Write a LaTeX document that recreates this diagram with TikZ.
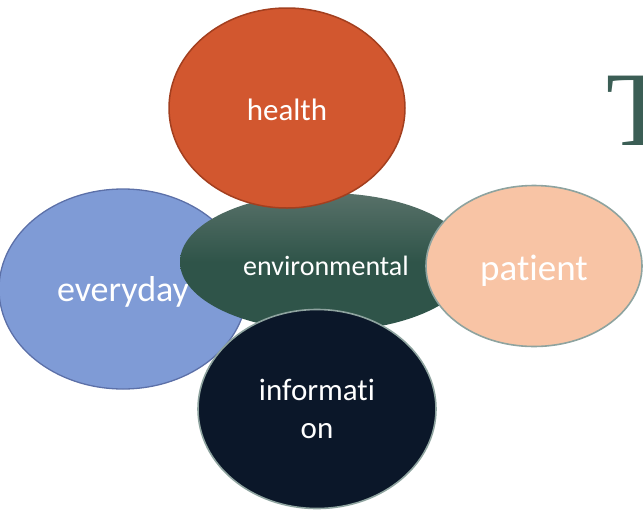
\documentclass[tikz,border=0pt]{standalone}
\usepackage{fontspec}
\setmainfont{Carlito}[Ligatures={NoCommon,NoRare}]
\newfontfamily\serifT{Liberation Serif}
\usetikzlibrary{shapes.geometric}
\definecolor{everyfill}{HTML}{7F9BD6}
\definecolor{everydraw}{HTML}{5C70A8}
\definecolor{healthfill}{HTML}{D2572F}
\definecolor{healthdraw}{HTML}{A33F1F}
\definecolor{envtop}{HTML}{587169}
\definecolor{envbot}{HTML}{2F5449}
\definecolor{patientfill}{HTML}{F8C4A5}
\definecolor{greydraw}{HTML}{8EA39F}
\definecolor{infofill}{HTML}{0B1729}
\definecolor{tcolor}{HTML}{3B5E55}
\begin{document}
\begin{tikzpicture}[x=1pt,y=-1pt,
  blob/.style={ellipse, inner sep=0pt, outer sep=0pt, text=white, align=center}]
\useasboundingbox (0,0) rectangle (643,512);
\node[blob, fill=everyfill, draw=everydraw, line width=1.3pt,
  minimum width=248pt, minimum height=200pt,
  font=\fontsize{36}{42}\selectfont, text height=25pt, text depth=0pt]
  (everyday) at (123,289) {everyday};
\node[blob, top color=envtop, bottom color=envbot, middle color=envbot,
  minimum width=292pt, minimum height=138pt,
  font=\fontsize{28}{34}\selectfont, text height=26pt, text depth=0pt]
  (environmental) at (326,262) {environmental};
\node[blob, fill=healthfill, draw=healthdraw, line width=1.5pt,
  minimum width=236pt, minimum height=200pt,
  font=\fontsize{31}{38}\selectfont, text height=24pt, text depth=0pt]
  (health) at (287,108) {health};
\node[blob, fill=patientfill, draw=greydraw, line width=1.6pt,
  minimum width=216pt, minimum height=161pt,
  font=\fontsize{37}{42}\selectfont, text height=28pt, text depth=0pt]
  (patient) at (534,266) {pat\kern0pt ient};
\node[blob, fill=infofill, draw=greydraw, line width=1.6pt,
  minimum width=238pt, minimum height=199pt,
  font=\fontsize{31}{38}\selectfont]
  (information) at (317,409) {informat\kern0pt i\\on};
\node[anchor=base west, inner sep=0pt, text=tcolor,
  font=\serifT\fontsize{106}{110}\selectfont]
  (title) at (606,145) {T};
\end{tikzpicture}
\end{document}
